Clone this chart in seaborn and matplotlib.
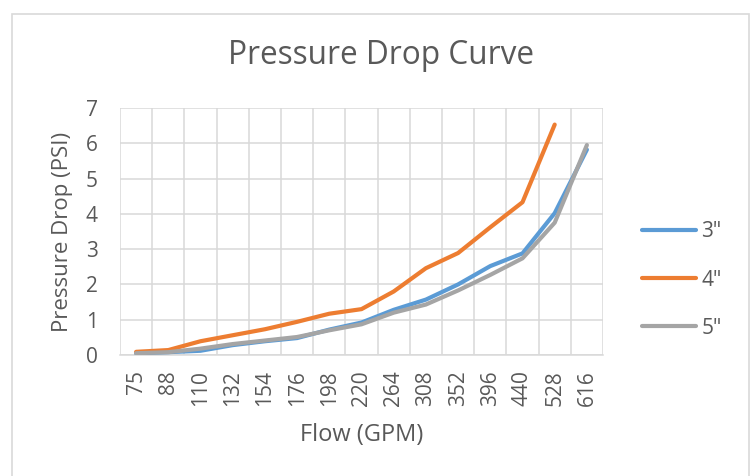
import numpy as np
import pandas as pd
import matplotlib
matplotlib.use("Agg")
import matplotlib.pyplot as plt
from matplotlib.patches import Rectangle
from matplotlib.lines import Line2D
import seaborn as sns

# ---- data ----
flow_labels = ["75", "88", "110", "132", "154", "176", "198", "220",
               "264", "308", "352", "396", "440", "528", "616"]
psi_3in = [0.05, 0.08, 0.12, 0.28, 0.39, 0.48, 0.72, 0.92,
           1.28, 1.57, 2.00, 2.52, 2.88, 4.02, 5.82]
psi_4in = [0.09, 0.14, 0.39, 0.56, 0.73, 0.94, 1.17, 1.30,
           1.80, 2.46, 2.89, 3.62, 4.33, 6.53, np.nan]
psi_5in = [0.05, 0.08, 0.18, 0.31, 0.41, 0.51, 0.70, 0.87,
           1.20, 1.43, 1.83, 2.27, 2.74, 3.75, 5.95]
series_names = ['3"', '4"', '5"']
series_colors = ["#5B9BD5", "#ED7D31", "#A5A5A5"]
y_ticks = [0, 1, 2, 3, 4, 5, 6, 7]

sns.set_style("white")
plt.rcParams["font.family"] = ["Open Sans", "DejaVu Sans"]
TXT = "#595959"
GRID = "#D9D9D9"

pos = list(range(len(flow_labels)))
df = pd.concat([
    pd.DataFrame({"pos": pos, "psi": vals, "size": name})
    for name, vals in zip(series_names, [psi_3in, psi_4in, psi_5in])
]).dropna()

fig = plt.figure(figsize=(7.55, 4.76), dpi=100)
ax = fig.add_axes([120 / 755, 1 - 355 / 476, (603 - 120) / 755, (355 - 108) / 476])

sns.lineplot(data=df, x="pos", y="psi", hue="size", palette=series_colors,
             hue_order=series_names, linewidth=3, sort=False, legend=False,
             ax=ax, zorder=3)
for ln in ax.lines:
    ln.set_solid_capstyle("round")
    ln.set_solid_joinstyle("round")

ax.set_xlim(-0.5, len(flow_labels) - 0.5)
ax.set_ylim(0, 7)
ax.set_xticks(pos)
ax.set_xticklabels(flow_labels, rotation=90)
ax.set_xticks(np.arange(-0.5, len(flow_labels), 1.0), minor=True)
ax.set_yticks(y_ticks)
ax.set_yticklabels([str(v) for v in y_ticks])
ax.grid(False)
ax.grid(which="minor", axis="x", color=GRID, linewidth=1.1, zorder=0)
ax.grid(which="major", axis="y", color=GRID, linewidth=1.1, zorder=0)
ax.set_axisbelow(True)
for s in ["top", "right", "left"]:
    ax.spines[s].set_visible(False)
ax.spines["bottom"].set_color(GRID)
ax.spines["bottom"].set_linewidth(1.1)
ax.tick_params(axis="both", which="both", length=0, labelsize=15, colors=TXT)
ax.tick_params(axis="x", pad=11)
ax.tick_params(axis="y", pad=16)

ax.set_xlabel("Flow (GPM)", fontsize=17, color=TXT, labelpad=12)
ax.set_ylabel("Pressure Drop (PSI)", fontsize=16, color=TXT, labelpad=9)

fig.text(381 / 755, 1 - 56 / 476, "Pressure Drop Curve", fontsize=22.8,
         color=TXT, ha="center", va="center")

handles = [Line2D([0], [0], color=c, lw=3, solid_capstyle="round") for c in series_colors]
fig.legend(handles, series_names, loc="center left",
           bbox_to_anchor=(642 / 755, 1 - 280 / 476), frameon=False,
           fontsize=15, handlelength=2.6, handletextpad=0.25,
           labelspacing=1.3, borderpad=0, borderaxespad=0, labelcolor=TXT)

fig.patches.append(Rectangle((12 / 755, -0.05), (749 - 12) / 755, 1.05 - 14 / 476,
                             transform=fig.transFigure, fill=False,
                             edgecolor=GRID, linewidth=1.2))

fig.savefig("out.png", dpi=100)
